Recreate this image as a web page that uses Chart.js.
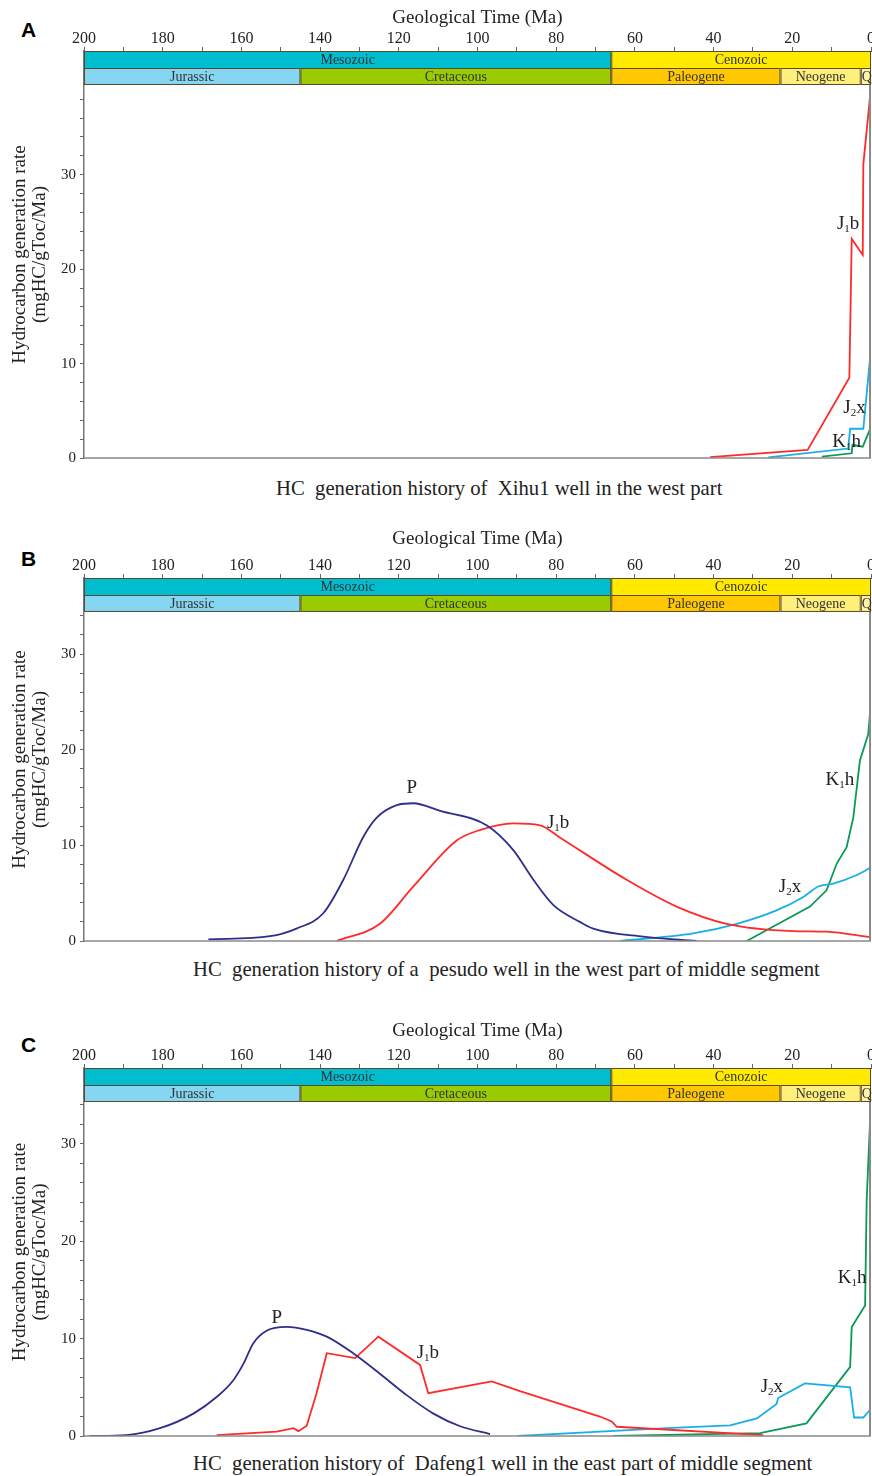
<!DOCTYPE html>
<html><head><meta charset="utf-8">
<script src="https://cdn.jsdelivr.net/npm/chart.js@4"></script>
<style>
body{margin:0;background:#fff;width:872px;height:1476px;position:relative;overflow:hidden;font-family:"Liberation Serif","Times New Roman",serif;}
.panel{position:absolute;left:0;}
.letter{position:absolute;font-family:"Liberation Sans",Arial,sans-serif;font-weight:bold;font-size:21px;color:#000;line-height:1;}
.caption{position:absolute;font-size:20.7px;color:#222;white-space:pre;line-height:1;}
</style></head><body>
<div class="letter" style="left:21px;top:19px">A</div>
<div class="letter" style="left:21px;top:548px">B</div>
<div class="letter" style="left:21px;top:1034px">C</div>
<canvas id="cA" class="panel" style="top:0px" width="872" height="462"></canvas>
<canvas id="cB" class="panel" style="top:520px" width="872" height="425"></canvas>
<canvas id="cC" class="panel" style="top:1012px" width="872" height="428"></canvas>
<div class="caption" style="left:276px;top:478px">HC  generation history of  Xihu1 well in the west part</div>
<div class="caption" style="left:193px;top:959px">HC  generation history of a  pesudo well in the west part of middle segment</div>
<div class="caption" style="left:193px;top:1453px">HC  generation history of  Dafeng1 well in the east part of middle segment</div>
<script>
// ---- axis / stratigraphy data ----
const xTickLabels = [200,180,160,140,120,100,80,60,40,20,0];
const yTickLabels = [0,10,20,30];
const eraNames = ['Mesozoic','Cenozoic'];
const eraFrom = [200,66];
const eraTo = [66,0];
const periodNames = ['Jurassic','Cretaceous','Paleogene','Neogene','Q'];
const periodFrom = [200,145,66,23,2.6];
const periodTo = [145,66,23,2.6,0];

// ---- Panel A: Xihu1 well ----
const A_J1b_age = [40.9,16.1,5.5,4.9,2.1,1.95,0];
const A_J1b_val = [0.1,0.85,8.5,23.2,21.5,31.1,39.3];
const A_J2x_age = [26.1,5.8,5.3,1.95,0.1];
const A_J2x_val = [0.07,1.0,3.1,3.1,11.2];
const A_K1h_age = [12.5,4.9,4.7,2.1,0];
const A_K1h_val = [0.15,0.5,1.4,1.2,3.3];
const A_labelAge = [5.8,4.2,6.2];
const A_labelVal = [24.8,5.3,1.7];

// ---- Panel B: pseudo well ----
const B_P_age = [168.4,152.7,146,139.2,134.1,129,125.6,120.5,116.3,109.5,97.7,90.9,85.8,80.7,74,70.6,57.9,44.3];
const B_P_val = [0.18,0.5,1.3,2.9,6.4,10.9,12.9,14.2,14.4,13.6,12.1,9.5,6.4,3.75,2.0,1.3,0.45,0];
const B_J1b_age = [135.8,124.8,116.3,105.3,99.4,90.9,84.1,79,62.1,49.4,36.7,19.8,11.3,0];
const B_J1b_val = [0,1.8,5.7,10.5,11.6,12.3,12.1,10.8,6.4,3.6,1.8,1.04,0.97,0.38];
const B_J2x_age = [63.8,45.2,34.1,24,17.2,13.4,9.6,3.6,0];
const B_J2x_val = [0,0.8,1.8,3.2,4.6,5.7,6.0,6.9,7.7];
const B_K1h_age = [31.6,24,15.5,11.3,8.7,6.2,4.5,2.8,0.7,0];
const B_K1h_val = [0,1.7,3.6,5.3,8.1,9.8,12.9,18.9,21.6,25.1];
const B_labelAge = [116.7,79.5,20.6,7.9];
const B_labelVal = [16.0,12.3,5.6,16.8];

// ---- Panel C: Dafeng1 well ----
const C_P_age = [198.5,189.2,180.7,172.2,166.3,162.1,159.5,157,153.6,148.5,143.4,138.3,131.6,124.8,118,111.2,104.4,96.8];
const C_P_val = [0,0.1,0.8,2.3,4.0,5.7,7.4,9.5,10.8,11.2,10.9,10.2,8.5,6.4,4.2,2.3,1.0,0.2];
const C_J1b_age = [166.3,151,146.8,145.5,143.4,140.9,138.3,131.1,125.2,114.6,112.5,96.4,89.2,68.9,65.9,64.6,27.4];
const C_J1b_val = [0.1,0.44,0.8,0.5,1.05,4.4,8.5,8.0,10.2,7.3,4.4,5.6,4.6,2.0,1.5,0.95,0.1];
const C_J2x_age = [89.7,68.9,51.9,35.8,29,24,23.6,16.8,5.3,4.3,1.95,0];
const C_J2x_val = [0,0.45,0.8,1.1,1.8,3.3,3.9,5.4,5.0,1.9,1.9,2.8];
const C_K1h_age = [65.5,28.2,16.4,5.3,4.9,1.5,1.1,0.1];
const C_K1h_val = [0,0.3,1.3,7.1,11.2,13.4,24.2,33.7];
const C_labelAge = [151,112.6,25.2,4.8];
const C_labelVal = [12.1,8.5,5.0,16.2];

// ---- styles ----
const COL = {J1b:'#ff2a2a', J2x:'#18aee6', K1h:'#0a9a55', P:'#2e2e8c'};
const eraColors = ['#00bdd0','#ffea00'];
const periodColors = ['#84d6f2','#9acb00','#ffc800','#fff07c','#fff3a6'];
const SERIF = '"Liberation Serif","Times New Roman",serif';

function pts(ages, vals){ return ages.map((a,i)=>({x:a,y:vals[i]})); }

function makeChart(id, cfg){
  const stratPlugin = {
    id:'strat',
    afterDraw(chart){
      const ctx = chart.ctx, xs = chart.scales.x, ys = chart.scales.y, ca = chart.chartArea;
      const top = ca.top, mid = top + 17, bot = ys.getPixelForValue(cfg.plotTop);
      ctx.save();
      ctx.lineWidth = 1;
      ctx.strokeStyle = '#5a4a2a';
      ctx.textAlign = 'center'; ctx.textBaseline = 'middle';
      ctx.font = '14px ' + SERIF;
      eraNames.forEach((n,i)=>{
        const x1 = xs.getPixelForValue(eraFrom[i]), x2 = xs.getPixelForValue(eraTo[i]);
        ctx.fillStyle = eraColors[i]; ctx.fillRect(x1, top, x2-x1, mid-top);
        ctx.strokeRect(x1+0.5, top+0.5, x2-x1-1, mid-top);
        ctx.fillStyle = '#333'; ctx.fillText(n, (x1+x2)/2, (top+mid)/2+1);
      });
      periodNames.forEach((n,i)=>{
        const x1 = xs.getPixelForValue(periodFrom[i]), x2 = xs.getPixelForValue(periodTo[i]);
        ctx.fillStyle = periodColors[i]; ctx.fillRect(x1, mid, x2-x1, bot-mid);
        ctx.strokeRect(x1+0.5, mid+0.5, x2-x1-1, bot-mid-1);
        ctx.fillStyle = '#333';
        if (n==='Q') { ctx.textAlign='left'; ctx.fillText(n, x1+1, (mid+bot)/2+1); ctx.textAlign='center'; }
        else ctx.fillText(n, (x1+x2)/2, (mid+bot)/2+1);
      });
      // frame: right border and zero line
      ctx.strokeStyle = '#8a8a8a'; ctx.lineWidth = 2;
      ctx.beginPath(); ctx.moveTo(ca.right-1, bot); ctx.lineTo(ca.right-1, ca.bottom); ctx.stroke();
      ctx.lineWidth = 1.5;
      ctx.beginPath(); ctx.moveTo(ca.left, ys.getPixelForValue(0)); ctx.lineTo(ca.right, ys.getPixelForValue(0)); ctx.stroke();
      // curve labels
      ctx.fillStyle = '#222'; ctx.textBaseline = 'middle';
      cfg.labels.forEach((L,i)=>{
        const px = xs.getPixelForValue(cfg.labelAge[i]), py = ys.getPixelForValue(cfg.labelVal[i]);
        ctx.font = '19px ' + SERIF; const w1 = ctx.measureText(L[0]).width; const w3 = ctx.measureText(L[2]).width;
        ctx.font = '11px ' + SERIF; const w2 = L[1] ? ctx.measureText(L[1]).width : 0;
        let x = px - (w1+w2+w3)/2;
        ctx.textAlign = 'left';
        ctx.font = '19px ' + SERIF; ctx.fillText(L[0], x, py); x += w1;
        if (L[1]) { ctx.font = '11px ' + SERIF; ctx.fillText(L[1], x, py+5); x += w2; }
        ctx.font = '19px ' + SERIF; ctx.fillText(L[2], x, py);
      });
      ctx.restore();
    }
  };
  const datasets = cfg.series.map(s=>({
    data: pts(s.age, s.val), borderColor: COL[s.key], borderWidth: 1.8,
    pointRadius: 0, tension: s.smooth ? 0.4 : 0, fill: false,
    cubicInterpolationMode: s.smooth ? 'monotone' : 'default'
  }));
  return new Chart(document.getElementById(id), {
    type: 'line',
    data: { datasets },
    options: {
      responsive:false, animation:false, devicePixelRatio:1,
      layout:{ padding:{ left:0, right:1, top:0, bottom:4 } },
      plugins:{ legend:{display:false}, tooltip:{enabled:false} },
      scales:{
        x:{
          type:'linear', position:'top', reverse:true, min:0, max:200,
          afterFit(s){ s.height = cfg.xBox; s.paddingLeft = 0; s.paddingRight = 0; },
          ticks:{ stepSize:10, autoSkip:false, maxRotation:0, padding:0, color:'#222',
            font:{ family:SERIF, size:16, lineHeight:1 },
            callback:(v)=> xTickLabels.includes(v) ? String(v) : '' },
          grid:{ drawOnChartArea:false, tickLength:4, color:'#666', lineWidth:1 },
          border:{ display:true, color:'#555' },
          title:{ display:true, text:'Geological Time (Ma)', color:'#222',
            font:{ family:SERIF, size:19, lineHeight:1.2 }, padding:{ top:cfg.titlePad, bottom:0 } }
        },
        y:{
          type:'linear', min:0, max:cfg.yMax,
          afterFit(s){ s.width = 84; s.paddingTop = 0; s.paddingBottom = 0; },
          afterBuildTicks(s){
            const t = []; for (let v = 0; v <= cfg.plotTop; v += 2) t.push({value:v}); s.ticks = t;
          },
          ticks:{ padding:4, autoSkip:false, color:'#222', font:{ family:SERIF, size:15 },
            callback:(v)=> yTickLabels.includes(v) ? String(v) : '' },
          grid:{ drawOnChartArea:false, tickLength:4, color:'#666' },
          border:{ display:true, color:'#777', width:1.5 },
          title:{ display:true, text:['Hydrocarbon generation rate','(mgHC/gToc/Ma)'], color:'#222',
            font:{ family:SERIF, size:19, lineHeight:1.05 }, padding:{ top:10, bottom:0 } }
        }
      }
    },
    plugins:[stratPlugin]
  });
}

makeChart('cA', {
  xBox:51, titlePad:7, yMax:43.1, plotTop:39.5,
  series:[
    {key:'J1b', age:A_J1b_age, val:A_J1b_val, smooth:false},
    {key:'J2x', age:A_J2x_age, val:A_J2x_val, smooth:false},
    {key:'K1h', age:A_K1h_age, val:A_K1h_val, smooth:false}
  ],
  labels:[['J','1','b'],['J','2','x'],['K','1','h']], labelAge:A_labelAge, labelVal:A_labelVal
});
makeChart('cB', {
  xBox:58, titlePad:8, yMax:37.95, plotTop:34.4,
  series:[
    {key:'P', age:B_P_age, val:B_P_val, smooth:true},
    {key:'J1b', age:B_J1b_age, val:B_J1b_val, smooth:true},
    {key:'J2x', age:B_J2x_age, val:B_J2x_val, smooth:true},
    {key:'K1h', age:B_K1h_age, val:B_K1h_val, smooth:false}
  ],
  labels:[['P','',''],['J','1','b'],['J','2','x'],['K','1','h']], labelAge:B_labelAge, labelVal:B_labelVal
});
makeChart('cC', {
  xBox:56, titlePad:8, yMax:37.79, plotTop:34.3,
  series:[
    {key:'P', age:C_P_age, val:C_P_val, smooth:true},
    {key:'J1b', age:C_J1b_age, val:C_J1b_val, smooth:false},
    {key:'J2x', age:C_J2x_age, val:C_J2x_val, smooth:false},
    {key:'K1h', age:C_K1h_age, val:C_K1h_val, smooth:false}
  ],
  labels:[['P','',''],['J','1','b'],['J','2','x'],['K','1','h']], labelAge:C_labelAge, labelVal:C_labelVal
});
</script>
</body></html>
